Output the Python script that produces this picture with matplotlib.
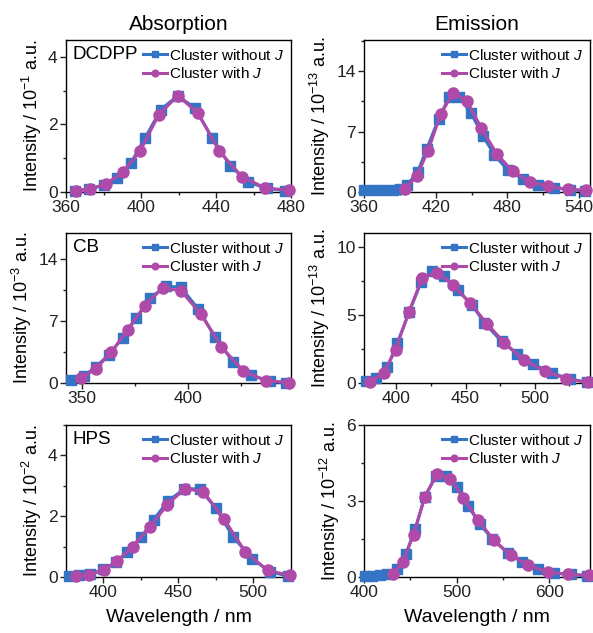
import numpy as np
import matplotlib.pyplot as plt
from matplotlib.ticker import AutoMinorLocator, MultipleLocator

plt.rcParams['font.family'] = ['Liberation Sans', 'DejaVu Sans']
plt.rcParams['mathtext.fontset'] = 'custom'
plt.rcParams['mathtext.rm'] = 'Liberation Sans'
plt.rcParams['mathtext.it'] = 'Liberation Sans:italic'
plt.rcParams['axes.linewidth'] = 1.0

# DCDPP absorption (1e-1 a.u.)
dcdpp_abs_x_noj = [365, 372, 380, 387, 394.5, 402.3, 410.5, 419.6, 428.6, 437.9, 447.5, 457.2, 467, 476.8]
dcdpp_abs_y_noj = [0.04, 0.08, 0.2, 0.4, 0.85, 1.61, 2.44, 2.85, 2.49, 1.61, 0.78, 0.29, 0.11, 0.04]
dcdpp_abs_x_j = [365.3, 372.8, 381.3, 390.2, 399.6, 409.4, 419.6, 430.4, 441.6, 453.9, 466.3, 479.1]
dcdpp_abs_y_j = [0.03, 0.09, 0.24, 0.58, 1.22, 2.28, 2.85, 2.34, 1.22, 0.45, 0.12, 0.05]

# DCDPP emission (1e-13 a.u.)
dcdpp_em_x_noj = [360, 368, 376, 384, 390, 396, 404.8, 412.5, 422.5, 431.3, 439.6, 449.6, 459.5, 469, 480.5, 493.3, 505.4, 519, 532, 545]
dcdpp_em_y_noj = [0.2, 0.2, 0.22, 0.25, 0.35, 0.8, 2.3, 5.0, 8.5, 11.0, 11.0, 9.1, 6.5, 4.3, 2.5, 1.5, 0.84, 0.5, 0.28, 0.12]
dcdpp_em_x_j = [394, 404.2, 413.6, 424.1, 434.6, 446.3, 458.1, 471.1, 484.4, 498.8, 513.7, 530.3, 545.8]
dcdpp_em_y_j = [0.4, 1.85, 4.8, 9.0, 11.5, 10.5, 7.4, 4.4, 2.4, 1.2, 0.68, 0.32, 0.2]

# CB absorption (1e-3 a.u.)
cb_abs_x_noj = [344.8, 350.8, 356.5, 362.7, 369.2, 375.5, 382.3, 389.5, 396.5, 404.8, 412.7, 421.1, 429.8, 438.6, 446.1]
cb_abs_y_noj = [0.38, 0.75, 1.8, 3.2, 5.1, 7.3, 9.6, 10.9, 10.8, 8.35, 5.2, 2.4, 0.86, 0.19, 0.02]
cb_abs_x_j = [349.5, 356.6, 363.9, 371.6, 379.5, 388.0, 396.6, 406.1, 415.6, 426.1, 436.7, 447.7]
cb_abs_y_j = [0.56, 1.6, 3.5, 6.0, 8.7, 10.7, 10.4, 7.75, 4.1, 1.35, 0.26, 0.05]

# CB emission (1e-13 a.u.)
cb_em_x_noj = [378.3, 385, 393.3, 400.5, 409.2, 417.8, 426, 434.2, 444.3, 454.9, 463.6, 476.1, 487.2, 498.8, 512.3, 525.8, 537.8]
cb_em_y_noj = [0.12, 0.37, 1.15, 2.9, 5.2, 7.4, 8.2, 7.85, 6.8, 5.7, 4.4, 3.05, 2.15, 1.4, 0.73, 0.29, 0.05]
cb_em_x_j = [380.8, 390.8, 399.3, 408.9, 418.7, 429.3, 440.9, 452.9, 465.5, 478, 492, 507.2, 522.9, 538.8]
cb_em_y_j = [0.07, 0.73, 2.44, 5.2, 7.7, 8.1, 7.2, 5.9, 4.35, 2.95, 1.7, 0.88, 0.3, 0.05]

# HPS absorption (1e-2 a.u.)
hps_abs_x_noj = [377, 383.7, 391.3, 400, 408.7, 416.1, 425.1, 433.6, 443, 454.2, 464.3, 475.4, 486.6, 499.6, 511.7, 523.6]
hps_abs_y_noj = [0.03, 0.06, 0.1, 0.25, 0.5, 0.83, 1.3, 1.88, 2.49, 2.9, 2.9, 2.26, 1.33, 0.59, 0.17, 0.03]
hps_abs_x_j = [381.4, 390.4, 400.2, 409.2, 419.5, 431.1, 442.8, 454.6, 466.9, 480.8, 494.9, 509.8, 525]
hps_abs_y_j = [0.03, 0.08, 0.22, 0.52, 1.0, 1.64, 2.38, 2.91, 2.8, 1.9, 0.83, 0.22, 0.05]

# HPS emission (1e-12 a.u.)
hps_em_x_noj = [401, 409, 417, 425, 435.4, 445.2, 455.3, 465.5, 477.8, 489, 500.2, 512.5, 524.8, 538.5, 555.2, 570.3, 587.7, 605.4, 623.5, 640.5]
hps_em_y_noj = [0.05, 0.05, 0.06, 0.1, 0.3, 0.9, 1.9, 3.15, 4.0, 4.0, 3.56, 2.8, 2.1, 1.5, 0.95, 0.6, 0.3, 0.16, 0.1, 0.05]
hps_em_x_j = [431.1, 441.6, 453.5, 465.5, 478.5, 493.3, 507.4, 523.3, 540.3, 558.4, 577.6, 598.2, 619.9, 642.7]
hps_em_y_j = [0.13, 0.6, 1.65, 3.15, 4.05, 3.88, 3.1, 2.24, 1.45, 0.86, 0.46, 0.2, 0.1, 0.07]

blue = '#3474c4'
magenta = '#b04aa8'

W, H = 593, 633
fig = plt.figure(figsize=(W / 100, H / 100), dpi=100)


def frac(x0, y0, x1, y1):
    return [x0 / W, 1 - y1 / H, (x1 - x0) / W, (y1 - y0) / H]


panels = [
    # (rect, data, xlim, xmajor, ylim, ymajor, exponent, tag)
    (frac(66, 40, 291, 192), (dcdpp_abs_x_noj, dcdpp_abs_y_noj, dcdpp_abs_x_j, dcdpp_abs_y_j),
     (360, 480), 40, (0, 4.5), 2, '-1', 'DCDPP'),
    (frac(364, 40, 590, 192), (dcdpp_em_x_noj, dcdpp_em_y_noj, dcdpp_em_x_j, dcdpp_em_y_j),
     (360, 549), 60, (0, 17.6), 7, '-13', None),
    (frac(66, 233, 291, 383), (cb_abs_x_noj, cb_abs_y_noj, cb_abs_x_j, cb_abs_y_j),
     (342.5, 448.5), 50, (0, 16.9), 7, '-3', 'CB'),
    (frac(364, 233, 590, 383), (cb_em_x_noj, cb_em_y_noj, cb_em_x_j, cb_em_y_j),
     (376.5, 540), 50, (0, 11), 5, '-13', None),
    (frac(66, 425, 291, 577), (hps_abs_x_noj, hps_abs_y_noj, hps_abs_x_j, hps_abs_y_j),
     (375, 525.5), 50, (0, 5), 2, '-2', 'HPS'),
    (frac(364, 425, 590, 577), (hps_em_x_noj, hps_em_y_noj, hps_em_x_j, hps_em_y_j),
     (400, 644), 100, (0, 6), 3, '-12', None),
]

for i, (rect, data, xlim, xmaj, ylim, ymaj, ex, tag) in enumerate(panels):
    ax = fig.add_axes(rect)
    xn, yn, xj, yj = data
    ax.plot(xn, yn, '-s', color=blue, lw=2.2, ms=7.5, label='Cluster without $J$', clip_on=False, zorder=3)
    ax.plot(xj, yj, '-o', color=magenta, lw=2.2, ms=8, label='Cluster with $J$', clip_on=False, zorder=4)
    ax.set_xlim(*xlim)
    ax.set_ylim(*ylim)
    ax.xaxis.set_major_locator(MultipleLocator(xmaj))
    ax.yaxis.set_major_locator(MultipleLocator(ymaj))
    ax.xaxis.set_minor_locator(AutoMinorLocator(2))
    ax.yaxis.set_minor_locator(AutoMinorLocator(2))
    ax.tick_params(which='both', direction='out', labelsize=12.5, width=1, pad=2, colors='#222222')
    ax.tick_params(which='major', length=4)
    ax.tick_params(which='minor', length=2.5)
    ax.set_ylabel('Intensity / 10$^{' + ex + '}$ a.u.', fontsize=13, labelpad=3)
    ax.legend(loc='upper right', frameon=False, fontsize=11, handlelength=1.6, handletextpad=0.1,
              markerscale=0.6, labelspacing=0.25, borderaxespad=0.2, borderpad=0.3)
    if tag:
        ax.text(0.03, 0.96, tag, transform=ax.transAxes, fontsize=13.5, va='top', ha='left')
    if i == 0:
        ax.set_title('Absorption', fontsize=15, pad=7)
    if i == 1:
        ax.set_title('Emission', fontsize=15, pad=7)
    if i >= 4:
        ax.set_xlabel('Wavelength / nm', fontsize=14, labelpad=6)

fig.savefig('out.png', dpi=100)
